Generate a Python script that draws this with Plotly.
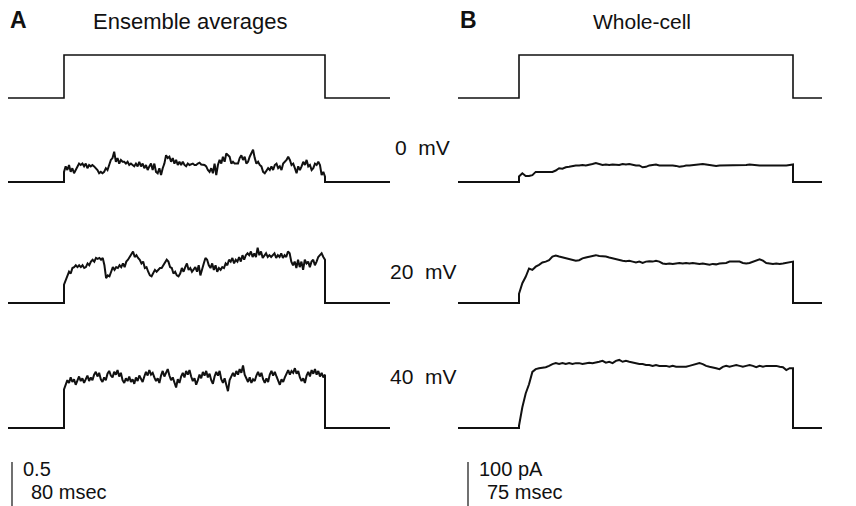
import numpy as np
import plotly.graph_objects as go

# ---------------------------------------------------------------- data
PULSE = (0.0, 400.0)                     # command pulse on / off (ms)
row_labels = ["0\u00a0\u00a0mV", "20\u00a0\u00a0mV", "40\u00a0\u00a0mV"]

# Ensemble-average open probability, uniformly sampled across the pulse
ens_0mV = [
    0.11, 0.17, 0.13, 0.185, 0.11, 0.15, 0.095, 0.13, 0.17, 0.20,
    0.185, 0.20, 0.17, 0.20, 0.15, 0.185, 0.17, 0.185, 0.17, 0.15,
    0.13, 0.095, 0.11, 0.095, 0.11, 0.15, 0.13, 0.185, 0.24, 0.26,
    0.33, 0.22, 0.26, 0.20, 0.24, 0.22, 0.22, 0.20, 0.22, 0.185,
    0.20, 0.185, 0.17, 0.20, 0.17, 0.22, 0.17, 0.20, 0.15, 0.185,
    0.13, 0.17, 0.20, 0.13, 0.20, 0.11, 0.095, 0.15, 0.076, 0.15,
    0.20, 0.29, 0.26, 0.275, 0.22, 0.26, 0.20, 0.24, 0.185, 0.22,
    0.185, 0.22, 0.185, 0.17, 0.20,
    0.185, 0.19, 0.20, 0.185, 0.185, 0.20, 0.21, 0.19, 0.19, 0.185,
    0.17, 0.13, 0.11, 0.15, 0.095, 0.20, 0.076, 0.185, 0.24, 0.20,
    0.275, 0.22, 0.31, 0.29, 0.275, 0.20, 0.22, 0.20, 0.20, 0.20,
    0.26, 0.29, 0.24, 0.275, 0.20, 0.22, 0.275, 0.31, 0.35, 0.26,
    0.20, 0.22, 0.185, 0.17, 0.11, 0.095, 0.13, 0.15, 0.13, 0.17,
    0.13, 0.185, 0.20, 0.15, 0.17, 0.13, 0.20, 0.22, 0.24, 0.275,
    0.24, 0.185, 0.20, 0.15, 0.095, 0.17, 0.13, 0.17, 0.22, 0.185,
    0.24, 0.17, 0.185, 0.13, 0.15, 0.20, 0.185, 0.22, 0.185, 0.076,
    0.11, 0.058,
]
ens_20mV = [
    0.20, 0.25, 0.29, 0.34, 0.32, 0.38, 0.39, 0.41, 0.39, 0.41,
    0.39, 0.41, 0.38, 0.39, 0.43, 0.41, 0.45, 0.47, 0.45, 0.49,
    0.48, 0.49, 0.47, 0.49, 0.41, 0.27, 0.30, 0.29, 0.34, 0.39,
    0.36, 0.39, 0.38, 0.41, 0.39, 0.43, 0.39, 0.45, 0.47, 0.50,
    0.52, 0.56, 0.50, 0.52, 0.49, 0.47, 0.43, 0.45, 0.38, 0.39,
    0.34, 0.30, 0.29, 0.32, 0.36, 0.34, 0.36, 0.38, 0.38, 0.41,
    0.45, 0.47, 0.45, 0.39, 0.38, 0.32, 0.34, 0.30, 0.29, 0.32,
    0.38, 0.34, 0.39, 0.43,
    0.36, 0.38, 0.34, 0.36, 0.39, 0.34, 0.41, 0.30, 0.38, 0.43,
    0.49, 0.47, 0.41, 0.38, 0.43, 0.36, 0.41, 0.34, 0.38, 0.36,
    0.39, 0.38, 0.43, 0.41, 0.47, 0.45, 0.49, 0.43, 0.47, 0.45,
    0.50, 0.45, 0.52, 0.47, 0.52, 0.54, 0.52, 0.56, 0.50, 0.54,
    0.50, 0.60, 0.52, 0.56, 0.49, 0.52, 0.54, 0.50, 0.52, 0.50,
    0.52, 0.54, 0.49, 0.52, 0.50, 0.54, 0.49, 0.52, 0.50, 0.56,
    0.54, 0.45, 0.41, 0.45, 0.38, 0.47, 0.39, 0.45, 0.36, 0.47,
    0.43, 0.45, 0.39, 0.45, 0.47, 0.41, 0.45, 0.50, 0.52, 0.54,
    0.50, 0.47,
]
ens_40mV = [
    0.42,
    0.47, 0.52, 0.49, 0.55, 0.50, 0.53, 0.47, 0.52, 0.56, 0.51,
    0.54, 0.49, 0.53, 0.57, 0.51, 0.55, 0.52, 0.58, 0.61, 0.56,
    0.60, 0.53, 0.50, 0.55, 0.52, 0.59, 0.62, 0.57, 0.55, 0.61,
    0.58, 0.63, 0.56, 0.60, 0.52, 0.49, 0.54, 0.51, 0.56, 0.50,
    0.53, 0.48, 0.55, 0.51, 0.57, 0.53, 0.50, 0.56, 0.61, 0.57,
    0.63, 0.58, 0.60, 0.55, 0.51, 0.54, 0.49, 0.57, 0.62, 0.56,
    0.60, 0.64, 0.57, 0.52, 0.55, 0.50, 0.44, 0.53, 0.49, 0.56,
    0.60, 0.55, 0.62, 0.58, 0.63, 0.56, 0.51, 0.54, 0.47, 0.52,
    0.58, 0.54, 0.61, 0.57, 0.62, 0.55, 0.59, 0.52, 0.48, 0.56,
    0.61, 0.57, 0.62, 0.53, 0.49, 0.54, 0.47, 0.40, 0.52, 0.56,
    0.60, 0.56, 0.62, 0.58, 0.64, 0.60, 0.68, 0.58, 0.53, 0.50,
    0.55, 0.49, 0.53, 0.51, 0.57, 0.61, 0.56, 0.60, 0.53, 0.49,
    0.54, 0.50, 0.58, 0.62, 0.57, 0.61, 0.56, 0.51, 0.47, 0.53,
    0.50, 0.55, 0.59, 0.63, 0.58, 0.62, 0.60, 0.65, 0.59, 0.62,
    0.55, 0.51, 0.54, 0.49, 0.57, 0.61, 0.56, 0.63, 0.59, 0.64,
    0.58, 0.62, 0.56, 0.60, 0.55, 0.58,
]

# Whole-cell current (pA), uniformly sampled across the pulse
wc_0mV = [
    12, 19, 13, 13, 15, 22, 22, 22, 22, 21,
    22, 25, 30, 29, 32, 33, 35, 36, 36, 37,
    36, 37, 39, 41, 39, 37, 38, 37, 38, 38,
    37, 39, 38, 39, 37, 36, 36, 32, 33, 36,
    37, 38, 36, 36, 37, 36, 36, 35, 33, 34,
    36, 36, 37, 38, 39, 39, 38, 37, 36, 35,
    36, 36, 37, 36, 36, 37, 36, 36, 37, 38,
    37, 36, 36, 36, 36, 36, 35, 36, 36, 36,
    36, 37, 38,
]
wc_20mV = [
    20, 43, 57, 75, 72, 79, 83, 88, 90, 93,
    101, 103, 101, 99, 97, 95, 93, 92, 93, 97,
    99, 101, 102, 104, 102, 102, 101, 99, 97, 95,
    93, 92, 91, 92, 90, 88, 90, 87, 90, 91,
    90, 92, 90, 86, 85, 86, 85, 86, 87, 86,
    87, 86, 87, 86, 85, 86, 85, 83, 85, 84,
    86, 87, 87, 90, 90, 91, 90, 87, 86, 87,
    90, 92, 95, 92, 87, 86, 85, 86, 85, 86,
    87, 88, 90,
]
wc_40mV = [
    5, 45, 75, 95, 122, 128, 130, 131, 132, 135,
    139, 141, 139, 141, 139, 141, 139, 141, 141, 139,
    141, 142, 141, 142, 144, 146, 142, 144, 141, 146,
    148, 144, 146, 144, 142, 141, 139, 139, 137, 137,
    135, 137, 135, 135, 135, 133, 135, 133, 133, 132,
    133, 135, 137, 139, 141, 139, 135, 133, 132, 130,
    128, 133, 135, 133, 135, 137, 135, 133, 135, 137,
    135, 132, 135, 133, 135, 135, 135, 135, 133, 132,
    126, 130, 130,
]

scale_A = (0.5, "0.5", "80 msec")
scale_B = (100, "100 pA", "75 msec")

# ---------------------------------------------------------------- layout
W, H = 856, 506
FONT = "Liberation Sans, Arial, Helvetica, sans-serif"
INK = "#111111"

# horizontal placement (px): trace start, pulse on, pulse off, trace end
A_X = dict(left=8, on=64, off=325, right=390)
B_X = dict(left=458, on=519, off=793, right=822)
ROW_BASE = [98, 182, 303, 428]      # baseline of command + three sweeps (px)
CMD_PX = 43                         # command step height (px)
A_PX = 92                           # px per unit open probability
B_PX = 0.46                         # px per pA


def x_axis_setup(g):
    ppm = (g["off"] - g["on"]) / (PULSE[1] - PULSE[0])
    rng = [PULSE[0] - g["on"] / ppm, PULSE[0] + (W - g["on"]) / ppm]
    t_start = PULSE[0] + (g["left"] - g["on"]) / ppm
    t_end = PULSE[0] + (g["right"] - g["on"]) / ppm
    return rng, t_start, t_end


def y_range(base_px, ppu):
    return [(base_px - H) / ppu, base_px / ppu]


def sweep(values, t_start, t_end):
    inside = np.linspace(PULSE[0], PULSE[1], len(values))
    t = np.concatenate([[t_start, PULSE[0]], inside, [PULSE[1], t_end]])
    y = np.concatenate([[0, 0], values, [0, 0]])
    return t, y


def command(t_start, t_end):
    t = [t_start, PULSE[0], PULSE[0], PULSE[1], PULSE[1], t_end]
    y = [0, 0, 1, 1, 0, 0]
    return t, y


fig = go.Figure()
layout = dict(
    width=W, height=H, margin=dict(l=0, r=0, t=0, b=0),
    paper_bgcolor="white", plot_bgcolor="rgba(0,0,0,0)",
    showlegend=False, font=dict(family=FONT, color=INK),
)

panels = [
    ("x", A_X, [ens_0mV, ens_20mV, ens_40mV], A_PX, 1),
    ("x2", B_X, [wc_0mV, wc_20mV, wc_40mV], B_PX, 5),
]
hidden = dict(visible=False, showgrid=False, zeroline=False, fixedrange=True)

for xname, geo, sweeps, ppu, first_y in panels:
    rng, t0, t1 = x_axis_setup(geo)
    xkey = "xaxis" if xname == "x" else "xaxis2"
    layout[xkey] = dict(domain=[0, 1], range=rng, **hidden)
    if xname == "x2":
        layout[xkey]["overlaying"] = "x"

    # command pulse row
    yid = first_y
    ykey = "yaxis" if yid == 1 else f"yaxis{yid}"
    layout[ykey] = dict(domain=[0, 1], range=y_range(ROW_BASE[0], CMD_PX),
                        anchor=xname, **hidden)
    if yid != 1:
        layout[ykey]["overlaying"] = "y"
    t, y = command(t0, t1)
    fig.add_trace(go.Scatter(x=t, y=y, xaxis=xname,
                             yaxis="y" if yid == 1 else f"y{yid}",
                             mode="lines", line=dict(color=INK, width=1.6),
                             hoverinfo="skip"))

    # sweeps
    for k, vals in enumerate(sweeps):
        yid = first_y + 1 + k
        ykey = f"yaxis{yid}"
        layout[ykey] = dict(domain=[0, 1],
                            range=y_range(ROW_BASE[k + 1], ppu),
                            anchor=xname, overlaying="y", **hidden)
        t, y = sweep(vals, t0, t1)
        fig.add_trace(go.Scatter(x=t, y=y, xaxis=xname, yaxis=f"y{yid}",
                                 mode="lines",
                                 line=dict(color=INK, width=2.0),
                                 hoverinfo="skip"))


def px(xp, yp):
    return xp / W, 1 - yp / H


annotations = []


def label(text, xp, yp, size=21, anchor="left", bold=False):
    x, y = px(xp, yp)
    annotations.append(dict(
        text=f"<b>{text}</b>" if bold else text, x=x, y=y,
        xref="paper", yref="paper", xanchor=anchor, yanchor="middle",
        showarrow=False, font=dict(size=size, family=FONT, color=INK)))


label("A", 18, 20, size=23, anchor="center", bold=True)
label("Ensemble averages", 190, 22, size=22, anchor="center")
label("B", 468, 20, size=23, anchor="center", bold=True)
label("Whole-cell", 642, 22, size=21, anchor="center")

label(row_labels[0], 393, 147)
label(row_labels[1], 388, 271)
label(row_labels[2], 388, 376)

# scale bars (vertical bar length follows the trace scaling)
shapes = []
bar_top = 462
for xp, (val, vtxt, ttxt), ppu in [(12, scale_A, A_PX), (468, scale_B, B_PX)]:
    length = val * ppu
    x, y_top = px(xp, bar_top)
    _, y_bot = px(xp, bar_top + length)
    shapes.append(dict(type="line", xref="paper", yref="paper",
                       x0=x, x1=x, y0=y_bot, y1=y_top,
                       line=dict(color=INK, width=1.2)))
    label(vtxt, xp + 9, 469, size=20)
    label(ttxt, xp + 17, 492, size=20)

layout["annotations"] = annotations
layout["shapes"] = shapes
fig.update_layout(**layout)
fig.write_html("out.html")
